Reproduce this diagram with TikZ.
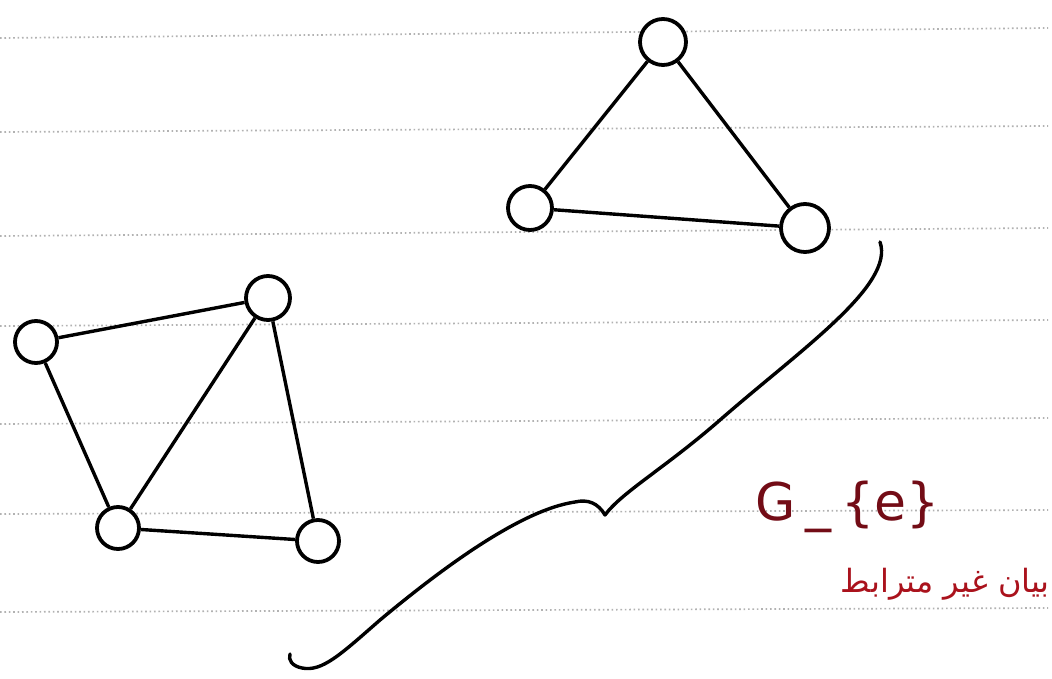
\documentclass[tikz,border=0pt]{standalone}
\usepackage{fontspec}
\setmainfont{DejaVu Sans}
\newfontfamily\arabicfont[Script=Arabic]{DejaVu Sans}
\TeXXeTstate=1
\definecolor{inkred}{RGB}{115,12,22}
\definecolor{arred}{RGB}{170,18,28}
\begin{document}
\begin{tikzpicture}[x=1pt,y=-1pt,
  ruling/.style={draw=gray!60, line width=1.7pt, dash pattern=on 1.6pt off 2.8pt},
  vtx/.style={circle, draw=black, fill=white, line width=3.8pt, minimum size=#1, inner sep=0pt},
  vtx/.default=40pt,
  edge/.style={draw=black, line width=3.4pt},
  brace/.style={draw=black, line width=3.4pt, line cap=round, line join=round}]
\fill[white] (0,0) rectangle (1052,679);
\useasboundingbox (0,0) rectangle (1052,679);
% ruled paper
\foreach \yl/\yr in {38/28, 132/126, 236/228, 326/320, 424/418, 514/510, 612/608}
  \draw[ruling] (0,\yl) -- (1048,\yr);
% triangle component
\node[vtx=46pt] (t1) at (663,42) {};
\node[vtx=44pt] (t2) at (530,208) {};
\node[vtx=48pt] (t3) at (805,228) {};
\draw[edge] (t1) -- (t2);
\draw[edge] (t1) -- (t3);
\draw[edge] (t2) -- (t3);
% quadrilateral component
\node[vtx=42pt] (q1) at (36,342) {};
\node[vtx=44pt] (q2) at (268,298) {};
\node[vtx=42pt] (q3) at (118,528) {};
\node[vtx=42pt] (q4) at (318,541) {};
\draw[edge] (q1) -- (q2);
\draw[edge] (q1) -- (q3);
\draw[edge] (q2) -- (q3);
\draw[edge] (q2) -- (q4);
\draw[edge] (q3) -- (q4);
% brace
\coordinate (btop) at (880,242);
\coordinate (btip) at (605,515);
\coordinate (bend) at (290,654);
\draw[brace] (btop) .. controls (895,285) and (800,350) .. (720,420)
  .. controls (665,468) and (622,492) .. (btip)
  .. controls (598,503) and (588,499) .. (575,502)
  .. controls (520,510) and (440,570) .. (380,620)
  .. controls (340,655) and (322,672) .. (302,668)
  .. controls (292,666) and (288,660) .. (bend);
% labels
\node[text=inkred, anchor=base west, inner sep=0pt, font=\fontsize{52}{56}\selectfont] (lab) at (755,520) {G\kern10pt\_\kern10pt\{e\}};
\node[text=arred, anchor=base east, inner sep=0pt, font=\arabicfont\fontsize{32}{36}\selectfont] (ar) at (1050,592) {\beginR بيان غير مترابط\endR};
\end{tikzpicture}
\end{document}
